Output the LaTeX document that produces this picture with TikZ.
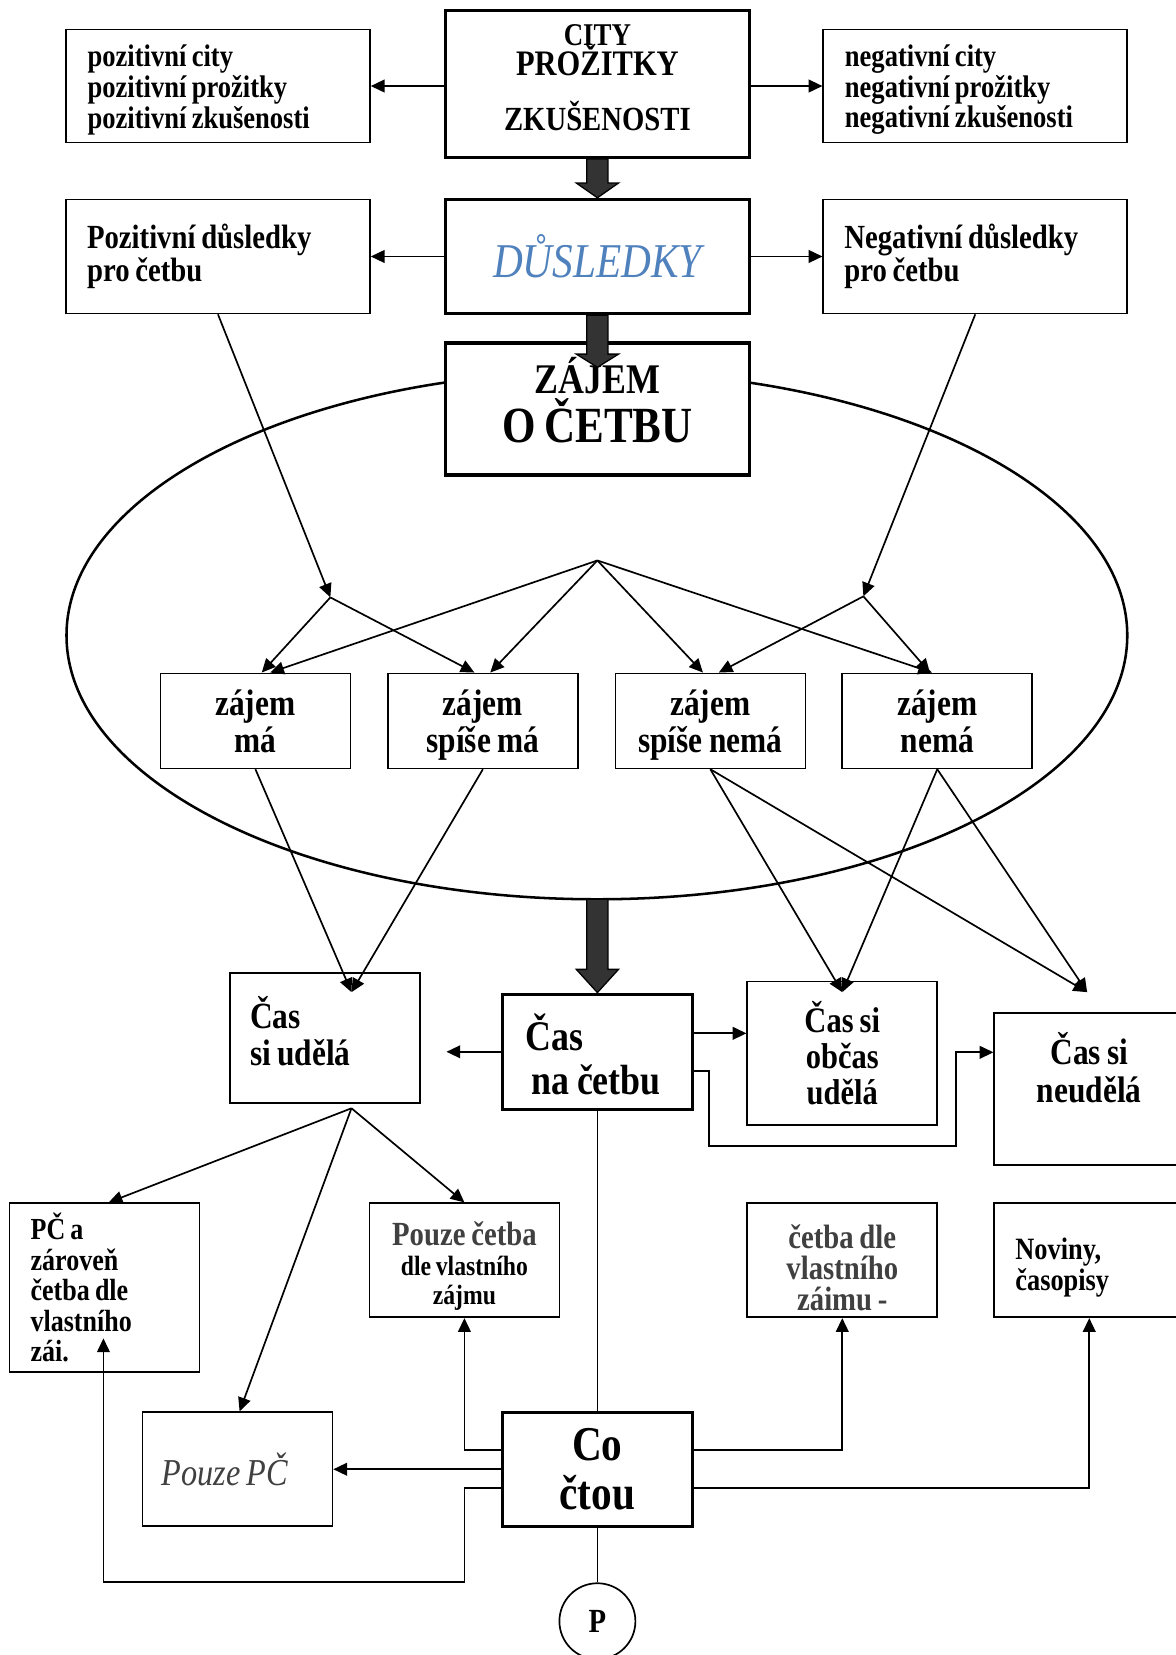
\documentclass[tikz,border=0pt]{standalone}
\usepackage{fontspec}
\setmainfont{Liberation Serif}[FakeStretch=0.85,WordSpace=0.8]
\usetikzlibrary{arrows.meta,calc}

\definecolor{dusblue}{HTML}{4F81BD}
\definecolor{textgray}{HTML}{404040}
\definecolor{arrowgray}{HTML}{333333}

\newcommand{\setfs}[2]{\fontsize{#1}{#2}\selectfont}
% fat grey arrow going straight down, #3 = head length
\newcommand{\bigarrow}[3]{%
  \draw[fatarrow] ($(#1)+(-10,0)$) -- ($(#2)+(-10,-#3)$) -- ($(#2)+(-20,-#3)$) -- (#2)
    -- ($(#2)+(20,-#3)$) -- ($(#2)+(10,-#3)$) -- ($(#1)+(10,0)$) -- cycle;}

\tikzset{
  box/.style={draw, rectangle, fill=white, line width=0.8pt, inner sep=0pt,
    minimum width=90pt, minimum height=54pt},
  heavybox/.style={box, line width=1.6pt},
  widebox/.style={minimum width=144pt},
  lefttext/.style={align=flush left, text width=#1},
  link/.style={line width=0.8pt, -{Triangle[length=6.5pt,width=6pt]}},
  wire/.style={line width=0.8pt},
  ring/.style={line width=1.2pt},
  fatarrow/.style={draw=black, line width=0.6pt, fill=arrowgray},
}

\begin{document}
\begin{tikzpicture}[x=0.5pt,y=-0.5pt]
\useasboundingbox (0,0) rectangle (1114,1568);
% big ellipse round the interest levels
\draw[ring] (565.5,602) ellipse [x radius=251.25pt, y radius=125pt];

% top row
\node[box, widebox, minimum height=53.5pt, lefttext=123.5pt, font=\bfseries\setfs{14.8}{14.5}] (pos1) at (206.5,81.5)
  {\rule{0pt}{14pt}pozitivní city\\ pozitivní prožitky\\ pozitivní zkušenosti};
\node[heavybox, widebox, minimum height=69.5pt, align=center, font=\bfseries\setfs{16}{16}] (city) at (566,79.5)
  {{\setfs{15}{16}CITY}\\[-2pt] {\setfs{17}{16}PROŽITKY}\\[10pt] ZKUŠENOSTI\rule[-6pt]{0pt}{0pt}};
\node[box, widebox, minimum height=53.5pt, lefttext=123.5pt, font=\bfseries\setfs{14.8}{14.5}] (neg1) at (924,81.5)
  {\rule{0pt}{14pt}negativní city\\ negativní prožitky\\ negativní zkušenosti};

% second row
\node[box, widebox, lefttext=124pt, font=\bfseries\setfs{16}{14.5}] (pos2) at (206.5,243) {Pozitivní důsledky\\ pro četbu};
\node[heavybox, widebox, text=dusblue, font=\itshape\setfs{23}{23}] (dus) at (566,243) {DŮSLEDKY};
\node[box, widebox, lefttext=124pt, font=\bfseries\setfs{16}{14.5}] (neg2) at (924,243) {Negativní důsledky\\ pro četbu};

% interest
\node[heavybox, widebox, minimum height=62.5pt, align=center, font=\bfseries\setfs{20}{23}] (zajem) at (566,387.5)
  {ZÁJEM\\ {\setfs{24}{23}O ČETBU}\rule[-8.5pt]{0pt}{0pt}};
\node[box, minimum height=45pt, align=center, font=\bfseries\setfs{17.5}{17.5}] (za1) at (242,683) {zájem\\ má};
\node[box, minimum height=45pt, align=center, font=\bfseries\setfs{17.5}{17.5}] (za2) at (457.5,683) {zájem\\ \smash{spíše má}};
\node[box, minimum height=45pt, align=center, font=\bfseries\setfs{17.5}{17.5}] (za3) at (673,683) {zájem\\ \smash{spíše nemá}};
\node[box, minimum height=45pt, align=center, font=\bfseries\setfs{17.5}{17.5}] (za4) at (888,683) {zájem\\ nemá};
\coordinate (hubL) at (313,566);
\coordinate (hubM) at (566,531);
\coordinate (hubR) at (818,565);

% time
\node[box, minimum height=61.5pt, lefttext=71pt, font=\bfseries\setfs{17.5}{17.5}] (casU) at (308,983.5)
  {Čas\\ si udělá\rule[-7pt]{0pt}{0pt}};
\node[heavybox, minimum height=54.5pt, lefttext=68pt, font=\bfseries\setfs{20}{21}] (casNa) at (566,996.5)
  {\rule{0pt}{20pt}Čas\\ \hspace*{3pt}\mbox{na četbu}};
\node[box, minimum height=68pt, align=center, font=\bfseries\setfs{17}{17}] (casO) at (798,998) {Čas si\\ občas\\ udělá};
\node[box, minimum height=72pt, align=center, font=\bfseries\setfs{17.5}{18}] (casN) at (1032,1032) {Čas si\\ neudělá\rule[-21pt]{0pt}{0pt}};

% what they read
\node[box, minimum height=80pt, lefttext=70pt, font=\bfseries\setfs{14.5}{14.5}] (pc) at (99,1220)
  {PČ a\\ zároveň\\ četba dle\\ vlastního\\ zái.};
\node[box, align=center, font=\bfseries\setfs{13.2}{14}] (pouze) at (440,1194)
  {\textcolor{textgray}{\setfs{16}{14}\rule{0pt}{17pt}Pouze četba}\\ dle vlastního\\ zájmu};
\node[box, align=center, text=textgray, font=\bfseries\setfs{16}{14.75}] (dle) at (798,1194)
  {\rule{0pt}{18.5pt}četba dle\\ vlastního\\ záimu -};
\node[box, lefttext=70pt, font=\bfseries\setfs{14.7}{15}] (noviny) at (1032,1194) {\rule{0pt}{17pt}Noviny,\\ časopisy};
\node[box, text=textgray, font=\itshape\setfs{18}{18}] (pouzePC) at (225,1392) {Pouze PČ\hspace*{12pt}};
\node[heavybox, align=center, font=\bfseries\setfs{23}{23}] (co) at (566,1392) {Co\\ čtou};
\node[draw, circle, line width=0.8pt, minimum size=36pt, inner sep=0pt, font=\bfseries\setfs{16}{16}] (p) at (566,1536) {P};

% side arrows at the top
\draw[link] (city.west |- pos1.east) -- (pos1.east);
\draw[link] (city.east |- neg1.west) -- (neg1.west);
\draw[link] (dus.west) -- (pos2.east);
\draw[link] (dus.east) -- (neg2.west);

% consequences into the hubs, hubs to interest boxes
\draw[link] (pos2.south) -- (hubL);
\draw[link] (neg2.south) -- (hubR);
\draw[link] (hubL) -- ([xshift=3pt]za1.north);
\draw[link] (hubL) -- ([xshift=-4pt]za2.north);
\draw[link] (hubM) -- ([xshift=7pt]za1.north);
\draw[link] (hubM) -- ([xshift=3.5pt]za2.north);
\draw[link] (hubM) -- ([xshift=-3.5pt]za3.north);
\draw[link] (hubM) -- ([xshift=-2.5pt]za4.north);
\draw[link] (hubR) -- ([xshift=4pt]za3.north);
\draw[link] (hubR) -- ([xshift=-3.5pt]za4.north);

% interest boxes to time
\coordinate (tipU) at (333,940);
\coordinate (tipO) at (798,940);
\coordinate (tipN) at (1030,940);
\draw[link] (za1.south) -- (tipU);
\draw[link] (za2.south) -- (tipU);
\draw[link] (za3.south) -- (tipO);
\draw[link] (za4.south) -- (tipO);
\draw[link] (za3.south) -- (tipN);
\draw[link] (za4.south) -- (tipN);

% time for reading
\coordinate (tipCU) at (423,996.5);
\coordinate (oO) at ([yshift=8.75pt]casNa.east);
\coordinate (oN) at ([yshift=-9pt]casNa.east);
\coordinate (bendA) at (672,1086);
\coordinate (bendB) at (906,997);
\draw[link] (casNa.west) -- (tipCU);
\draw[link] (oO) -- (oO -| casO.west);
\draw[link] (oN) -| (bendA) -| (bendB) -- (bendB -| casN.west);
\draw[wire] (casNa) -- (co);

% makes time
\coordinate (forkU) at (333,1050);
\draw[link] (forkU) -- ([xshift=2pt]pc.north);
\draw[link] (forkU) -- (pouze.north);
\draw[link] (forkU) -- ([xshift=1pt]pouzePC.north);

% what they read
\coordinate (coLa) at ([yshift=9pt]co.west);
\coordinate (coLb) at ([yshift=-9pt]co.west);
\coordinate (coRa) at ([yshift=9pt]co.east);
\coordinate (coRb) at ([yshift=-9pt]co.east);
\coordinate (loopL) at (440,1499);
\coordinate (tipPC) at (98,1268);
\draw[link] (coLa) -| (pouze.south);
\draw[link] (co.west) -- (pouzePC.east);
\draw[link] (coLb) -| (loopL) -| (tipPC);
\draw[link] (coRa) -| (dle.south);
\draw[link] (coRb) -| (noviny.south);
\draw[wire] (co) -- (p);

% fat arrows
\coordinate (zajtip) at (566,348);
\coordinate (ellbot) at (566,852);
\bigarrow{city.south}{dus.north}{14}
\bigarrow{dus.south}{zajtip}{12.5}
\bigarrow{ellbot}{casNa.north}{22}
\end{tikzpicture}
\end{document}
